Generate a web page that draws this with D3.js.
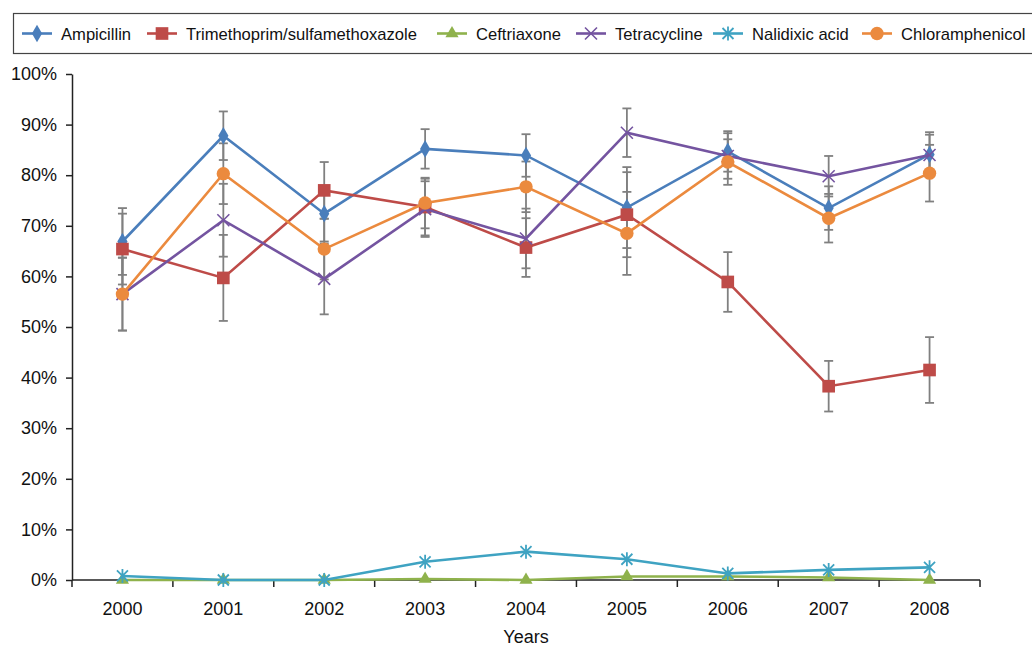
<!DOCTYPE html>
<html>
<head>
<meta charset="utf-8">
<script src="https://cdn.jsdelivr.net/npm/d3@7"></script>
<style>
  body { margin: 0; background: #fff; }
  text { font-family: "Liberation Sans", Arial, sans-serif; fill: #111; }
</style>
</head>
<body>
<svg id="chart" width="1032" height="648"></svg>
<script>
// values in percent
const years = ["2000", "2001", "2002", "2003", "2004", "2005", "2006", "2007", "2008"];
const yTicks = [0, 10, 20, 30, 40, 50, 60, 70, 80, 90, 100];

const ampicillin      = [66.9, 87.8, 72.4, 85.2, 83.9, 73.6, 84.7, 73.5, 84.1];
const trimethoprim    = [65.4, 59.7, 77.0, 73.7, 65.7, 72.2, 58.9, 38.3, 41.5];
const ceftriaxone     = [0, 0, 0, 0.2, 0, 0.7, 0.7, 0.5, 0];
const tetracycline    = [56.5, 71.1, 59.5, 73.3, 67.5, 88.4, 83.8, 79.8, 84.0];
const nalidixic       = [0.8, 0, 0, 3.6, 5.6, 4.1, 1.3, 2.0, 2.5];
const chloramphenicol = [56.5, 80.3, 65.4, 74.5, 77.7, 68.5, 82.6, 71.5, 80.4];

// half width of the error bars (percent points)
const ampicillinErr      = [6.6, 4.8, 5.5, 3.9, 4.2, 8.0, 4.0, 4.3, 4.4];
const trimethoprimErr    = [7.0, 8.5, 5.6, 5.6, 5.8, 8.4, 5.9, 5.0, 6.5];
const tetracyclineErr    = [7.2, 7.2, 7.0, 5.5, 5.9, 4.8, 4.5, 4.0, 4.0];
const chloramphenicolErr = [7.2, 6.0, 6.0, 5.0, 5.0, 8.2, 4.5, 4.8, 5.6];

const series = [
  { name: "Ampicillin", values: ampicillin, err: ampicillinErr, color: "#4A7EBB", marker: "diamond" },
  { name: "Trimethoprim/sulfamethoxazole", values: trimethoprim, err: trimethoprimErr, color: "#BE4B48", marker: "square" },
  { name: "Ceftriaxone", values: ceftriaxone, err: null, color: "#8FB24C", marker: "triangle" },
  { name: "Tetracycline", values: tetracycline, err: tetracyclineErr, color: "#7454A0", marker: "cross" },
  { name: "Nalidixic acid", values: nalidixic, err: null, color: "#3FA3C2", marker: "star" },
  { name: "Chloramphenicol", values: chloramphenicol, err: chloramphenicolErr, color: "#EB8A3E", marker: "circle" }
];

// legend layout
const legendX = [22, 147, 437, 576, 713, 862];

const svg = d3.select("#chart");
const plotLeft = 72, plotRight = 980, plotTop = 74, plotBottom = 580;

const x = d3.scaleBand().domain(years).range([plotLeft, plotRight]);
const xc = d => x(d) + x.bandwidth() / 2;
const y = d3.scaleLinear().domain([0, 100]).range([plotBottom, plotTop]);

// axes
const yAxis = svg.append("g")
  .attr("transform", `translate(${plotLeft},0)`)
  .call(d3.axisLeft(y).tickValues(yTicks).tickSize(6).tickSizeOuter(0).tickPadding(9)
    .tickFormat(d => d + "%"));
yAxis.selectAll("text").style("font-size", "18px");

const xAxis = svg.append("g")
  .attr("transform", `translate(0,${plotBottom})`)
  .call(d3.axisBottom(x).tickSize(0).tickPadding(22));
xAxis.select(".domain").remove();
xAxis.selectAll("text").style("font-size", "18px");

// tick marks on the category boundaries
const bounds = years.map(d => x(d)).concat([plotRight]);
svg.append("g").selectAll("line").data(bounds).join("line")
  .attr("x1", d => d).attr("x2", d => d)
  .attr("y1", plotBottom).attr("y2", plotBottom + 7)
  .attr("stroke", "#222").attr("stroke-width", 1.5);
svg.append("line")
  .attr("x1", plotLeft).attr("x2", plotRight).attr("y1", plotBottom).attr("y2", plotBottom)
  .attr("stroke", "#222").attr("stroke-width", 1.5);
svg.selectAll(".domain, .tick line").attr("stroke", "#222").attr("stroke-width", 1.5);

svg.append("text")
  .attr("x", (plotLeft + plotRight) / 2).attr("y", 643)
  .attr("text-anchor", "middle").style("font-size", "18px")
  .text("Years");

// error bars
const errG = svg.append("g");
series.filter(s => s.err).forEach(s => {
  const g = errG.append("g").attr("stroke", "#808080").attr("stroke-width", 1.8);
  s.values.forEach((v, i) => {
    const cx = xc(years[i]);
    const y1 = y(v + s.err[i]), y2 = y(v - s.err[i]);
    g.append("line").attr("x1", cx).attr("x2", cx).attr("y1", y1).attr("y2", y2);
    g.append("line").attr("x1", cx - 4.5).attr("x2", cx + 4.5).attr("y1", y1).attr("y2", y1);
    g.append("line").attr("x1", cx - 4.5).attr("x2", cx + 4.5).attr("y1", y2).attr("y2", y2);
  });
});

function drawMarker(g, type, color) {
  if (type === "cross") {
    g.append("path").attr("d", "M-6,-6L6,6M-6,6L6,-6")
      .attr("stroke", color).attr("stroke-width", 1.6).attr("fill", "none");
  } else if (type === "star") {
    g.append("path").attr("d", "M-5.5,-5.5L5.5,5.5M-5.5,5.5L5.5,-5.5M0,-7L0,7")
      .attr("stroke", color).attr("stroke-width", 1.8).attr("fill", "none");
  } else {
    const sym = { diamond: d3.symbolDiamond, square: d3.symbolSquare, triangle: d3.symbolTriangle, circle: d3.symbolCircle }[type];
    const size = { diamond: 90, square: 160, triangle: 75, circle: 140 }[type];
    g.append("path").attr("d", d3.symbol(sym, size)()).attr("fill", color);
  }
}

const line = d3.line().x((d, i) => xc(years[i])).y(d => y(d));

series.forEach(s => {
  const g = svg.append("g");
  g.append("path").datum(s.values)
    .attr("d", line).attr("fill", "none")
    .attr("stroke", s.color).attr("stroke-width", 2.6);
  s.values.forEach((v, i) => {
    const m = g.append("g").attr("transform", `translate(${xc(years[i])},${y(v)})`);
    drawMarker(m, s.marker, s.color);
  });
});

// legend
const legend = svg.append("g");
legend.append("rect")
  .attr("x", 13.5).attr("y", 13.5).attr("width", 1040).attr("height", 40)
  .attr("fill", "#fff").attr("stroke", "#444").attr("stroke-width", 1.2);
series.forEach((s, i) => {
  const g = legend.append("g").attr("transform", `translate(${legendX[i]},33.5)`);
  g.append("line").attr("x1", 0).attr("x2", 30)
    .attr("stroke", s.color).attr("stroke-width", 2.6);
  const m = g.append("g").attr("transform", "translate(15,0)");
  drawMarker(m, s.marker, s.color);
  g.append("text").attr("x", 39).attr("y", 6)
    .style("font-size", "16.6px").text(s.name);
});
</script>
</body>
</html>
